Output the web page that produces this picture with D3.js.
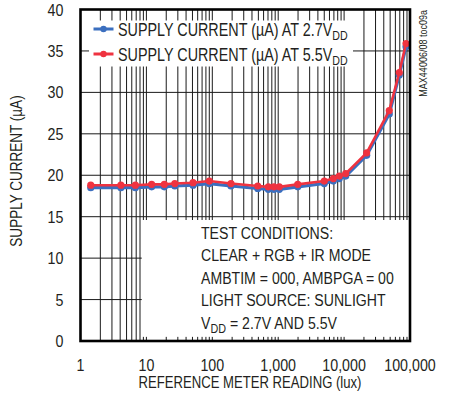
<!DOCTYPE html>
<html>
<head>
<meta charset="utf-8">
<script src="https://cdn.jsdelivr.net/npm/d3@7"></script>
<style>
  body { margin: 0; background: #fff; }
  svg { display: block; }
  text { font-family: "Liberation Sans", Arial, sans-serif; fill: #231f20; }
</style>
</head>
<body>
<svg id="chart" width="449" height="400"></svg>
<script>
// data
const lux = [1.43, 4.1, 6.8, 12, 18.7, 27, 51, 90, 192, 489, 708, 863, 1040, 1980, 5000, 6860, 8450, 10570, 22000, 48500, 68800, 87000]
const current27 = [18.5, 18.5, 18.5, 18.6, 18.6, 18.7, 18.8, 19.0, 18.7, 18.4, 18.3, 18.3, 18.3, 18.6, 19.0, 19.3, 19.6, 19.9, 22.4, 27.4, 32.1, 35.5]
const current55 = [18.8, 18.8, 18.8, 18.9, 18.9, 19.0, 19.1, 19.3, 19.0, 18.7, 18.6, 18.6, 18.6, 18.9, 19.3, 19.6, 19.9, 20.2, 22.7, 27.8, 32.4, 35.9]
const yTicks = [0, 5, 10, 15, 20, 25, 30, 35, 40]
const xTicks = [1, 10, 100, 1000, 10000, 100000]
const xTickLabels = ['1', '10', '100', '1,000', '10,000', '100,000']
const seriesNames = ['SUPPLY CURRENT (\u00b5A) AT 2.7V', 'SUPPLY CURRENT (\u00b5A) AT 5.5V']
const noteLines = ['TEST CONDITIONS:', 'CLEAR + RGB + IR MODE', 'AMBTIM = 000, AMBPGA = 00', 'LIGHT SOURCE: SUNLIGHT']

//

const colors = ['#3b6fbf', '#ef3340']
const margin = {top: 9.5, left: 80.5, right: 39, bottom: 59}
const width = 449 - margin.left - margin.right
const height = 400 - margin.top - margin.bottom

const svg = d3.select('#chart')
const g = svg.append('g')
  .attr('transform', 'translate(' + margin.left + ',' + margin.top + ')')

const x = d3.scaleLog().domain([1, 100000]).range([0, width])
const y = d3.scaleLinear().domain([0, 40]).range([height, 0])

// no narrow font here, so squeeze the regular one
function narrowText (parent, px, py, size, sx, rot) {
  return parent.append('text')
    .attr('transform', 'translate(' + px + ',' + py + ') rotate(' + (rot || 0) + ') scale(' + sx + ',1)')
    .attr('font-size', size)
}

// grid
const minor = []
for (let d = 1; d < 100000; d *= 10) {
  for (let k = 1; k <= 9; k++) minor.push(d * k)
}
minor.push(100000)

g.append('g').selectAll('line')
  .data(minor)
  .join('line')
  .attr('x1', d => x(d)).attr('x2', d => x(d))
  .attr('y1', 0).attr('y2', height)
  .attr('stroke', '#1a1a1a')
  .attr('stroke-width', 1)

g.append('g').selectAll('line')
  .data(yTicks)
  .join('line')
  .attr('x1', 0).attr('x2', width)
  .attr('y1', d => y(d)).attr('y2', d => y(d))
  .attr('stroke', '#1a1a1a')
  .attr('stroke-width', 1)

// white boxes for legend and notes
g.append('rect')
  .attr('x', 8.5).attr('y', 11)
  .attr('width', 264).attr('height', 46)
  .attr('fill', '#fff')

g.append('rect')
  .attr('x', x(8.5)).attr('y', y(14.6))
  .attr('width', width - x(8.5)).attr('height', y(0.5) - y(14.6))
  .attr('fill', '#fff')

// series
const line = d3.line()
  .x(d => x(d[0]))
  .y(d => y(d[1]))

const series = [current27, current55]
series.forEach((vals, i) => {
  const pts = lux.map((v, j) => [v, vals[j]])
  g.append('path')
    .datum(pts)
    .attr('fill', 'none')
    .attr('stroke', colors[i])
    .attr('stroke-width', i === 0 ? 3.2 : 2.6)
    .attr('d', line)
  g.append('g').selectAll('circle')
    .data(pts)
    .join('circle')
    .attr('cx', d => x(d[0]))
    .attr('cy', d => y(d[1]))
    .attr('r', 3.6)
    .attr('fill', colors[i])
})

// frame
g.append('rect')
  .attr('width', width).attr('height', height)
  .attr('fill', 'none')
  .attr('stroke', '#000')
  .attr('stroke-width', 2.6)

// y ticks
yTicks.forEach(d => {
  narrowText(g, -17, y(d) + 6, 17, 0.84)
    .attr('text-anchor', 'end')
    .text(d)
})

// x ticks
xTicks.forEach((d, i) => {
  narrowText(g, x(d), height + 30, 17, 0.84)
    .attr('text-anchor', 'middle')
    .text(xTickLabels[i])
})

// axis titles
narrowText(svg, 250, 388, 16, 0.82)
  .attr('text-anchor', 'middle')
  .text('REFERENCE METER READING (lux)')

narrowText(svg, 22, 171, 16.5, 0.82, -90)
  .attr('text-anchor', 'middle')
  .text('SUPPLY CURRENT (\u00b5A)')

narrowText(svg, 427, 10, 11, 0.82, -90)
  .attr('text-anchor', 'end')
  .text('MAX44006/08 toc09a')

// legend
seriesNames.forEach((name, i) => {
  const ly = 19.5 + i * 25
  g.append('line')
    .attr('x1', 13).attr('x2', 33)
    .attr('y1', ly).attr('y2', ly)
    .attr('stroke', colors[i])
    .attr('stroke-width', 3)
  g.append('circle')
    .attr('cx', 23).attr('cy', ly)
    .attr('r', 3.2)
    .attr('fill', colors[i])
  const t = narrowText(g, 37.5, ly + 6.5, 17.5, 0.82)
  t.append('tspan').text(name)
  t.append('tspan').attr('dy', 4).attr('font-size', 13).text('DD')
})

// notes
const noteX = 120.5
noteLines.forEach((s, i) => {
  narrowText(g, noteX, 229 + i * 22.5, 17, 0.83)
    .text(s)
})
const vdd = narrowText(g, noteX, 229 + 4 * 22.5, 17, 0.83)
vdd.append('tspan').text('V')
vdd.append('tspan').attr('dy', 4).attr('font-size', 13).text('DD')
vdd.append('tspan').attr('dy', -4).text(' = 2.7V AND 5.5V')
</script>
</body>
</html>
